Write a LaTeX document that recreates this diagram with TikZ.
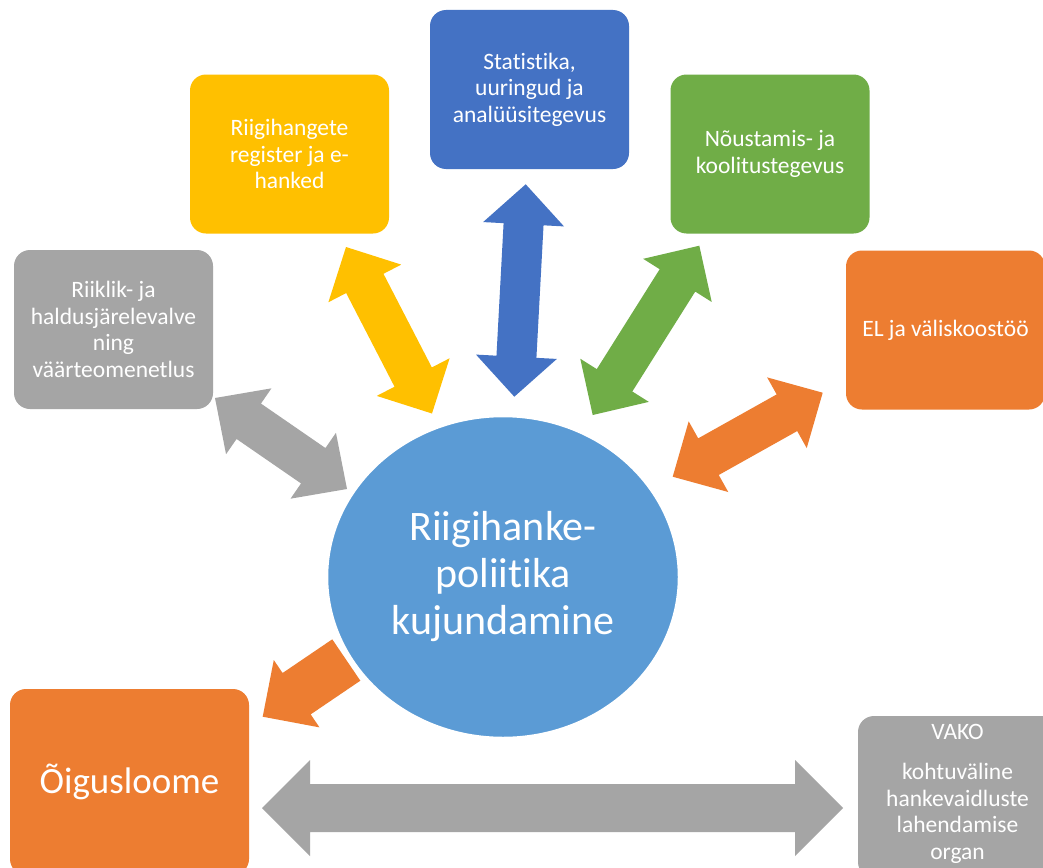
\documentclass[tikz,border=0pt]{standalone}
\usepackage{fontspec}
\setmainfont{Carlito}[Ligatures=NoCommon]
\usetikzlibrary{calc,shapes.geometric}
\definecolor{cgray}{HTML}{A5A5A5}
\definecolor{cyellow}{HTML}{FFC000}
\definecolor{cblue}{HTML}{4472C4}
\definecolor{cgreen}{HTML}{70AD47}
\definecolor{corange}{HTML}{ED7D31}
\definecolor{ccircle}{HTML}{5B9BD5}
% double arrow: #1 tip A, #2 tip B, #3 shaft half, #4 head half, #5 head length, #6 colour
\newcommand\dblarr[6]{%
\fill[#6] (#1) -- ($(#1)!#5!(#2)!#4!90:(#2)$) -- ($(#1)!#5!(#2)!#3!90:(#2)$)
 -- ($(#2)!#5!(#1)!#3!-90:(#1)$) -- ($(#2)!#5!(#1)!#4!-90:(#1)$) -- (#2)
 -- ($(#2)!#5!(#1)!#4!90:(#1)$) -- ($(#2)!#5!(#1)!#3!90:(#1)$)
 -- ($(#1)!#5!(#2)!#3!-90:(#2)$) -- ($(#1)!#5!(#2)!#4!-90:(#2)$) -- cycle;}
% single arrow: #1 tail mid, #2 tip
\newcommand\sglarr[6]{%
\fill[#6] ($(#1)!#3!90:(#2)$) -- ($(#2)!#5!(#1)!#3!-90:(#1)$) -- ($(#2)!#5!(#1)!#4!-90:(#1)$)
 -- (#2) -- ($(#2)!#5!(#1)!#4!90:(#1)$) -- ($(#2)!#5!(#1)!#3!90:(#1)$)
 -- ($(#1)!#3!-90:(#2)$) -- cycle;}
\tikzset{
  box/.style={rounded corners=16pt, minimum width=199pt, minimum height=159pt, inner sep=0pt,
    text=white, align=center, font=\fontsize{23.5}{26.5}\selectfont},
  lbl/.style={text=white, align=center, inner sep=0pt, font=\fontsize{23.5}{26.5}\selectfont},
}
\begin{document}
\begin{tikzpicture}[x=1pt,y=-1pt]
\useasboundingbox (0,0) rectangle (1043,867);
\clip (0,0) rectangle (1043,867);
\fill[white] (0,0) rectangle (1043,867);
% boxes
\node[box, fill=cgray] (riik) at (113.5,329.5) {Riiklik- ja\\haldusjärelevalve\\ning\\väärteomenetlus};
\node[box, fill=cyellow] (reg) at (289.5,154) {Riigihangete\\register ja e-\\hanked};
\node[box, fill=cblue] (stat) at (529.5,89.5) {Statistika,\\uuringud ja\\analüüsitegevus};
\node[box, fill=cgreen] (nou) at (770,154) {Nõustamis- ja\\koolitustegevus};
\node[box, fill=corange] (el) at (945.5,330) {EL ja väliskoostöö};
\node[box, fill=corange, minimum width=239pt, minimum height=186pt,
  font=\fontsize{37}{42}\selectfont] (oig) at (129.5,782) {Õigusloome};
\node[box, fill=cgray, minimum height=162pt] (vako) at (957.5,797) {};
\node[lbl] (vakot) at (957.5,732) {VAKO};
\node[lbl] (vakod) at (957.5,813.5) {kohtuväline\\hankevaidluste\\lahendamise\\organ};
% arrow tips
\coordinate (g1) at (215,398);   \coordinate (g2) at (347,489);
\coordinate (y1) at (346,247);   \coordinate (y2) at (432,413.5);
\coordinate (b1) at (525.7,184.3); \coordinate (b2) at (514.3,396.7);
\coordinate (n1) at (699.3,245.7); \coordinate (n2) at (592.7,415);
\coordinate (e1) at (822.7,392.7); \coordinate (e2) at (672.7,476.7);
\coordinate (o1) at (346.3,660); \coordinate (o2) at (262.7,716.7);
\coordinate (v1) at (262,808);   \coordinate (v2) at (843,808);
\dblarr{g1}{g2}{21.5pt}{40pt}{41pt}{cgray}
\dblarr{y1}{y2}{21pt}{41pt}{41pt}{cyellow}
\dblarr{b1}{b2}{20pt}{40.5pt}{40pt}{cblue}
\dblarr{n1}{n2}{21pt}{40.5pt}{41pt}{cgreen}
\dblarr{e1}{e2}{21pt}{40.5pt}{41pt}{corange}
\sglarr{o1}{o2}{25pt}{40.7pt}{41pt}{corange}
\dblarr{v1}{v2}{24pt}{48pt}{48pt}{cgray}
% centre
\node[ellipse, fill=ccircle, draw=white, line width=2.5pt, minimum width=352pt, minimum height=322pt,
  inner sep=0pt, text=white, align=center, font=\fontsize{42}{47}\selectfont] (c) at (503,577)
  {Riigihanke-\\poliitika\\kujundamine};
\end{tikzpicture}
\end{document}
